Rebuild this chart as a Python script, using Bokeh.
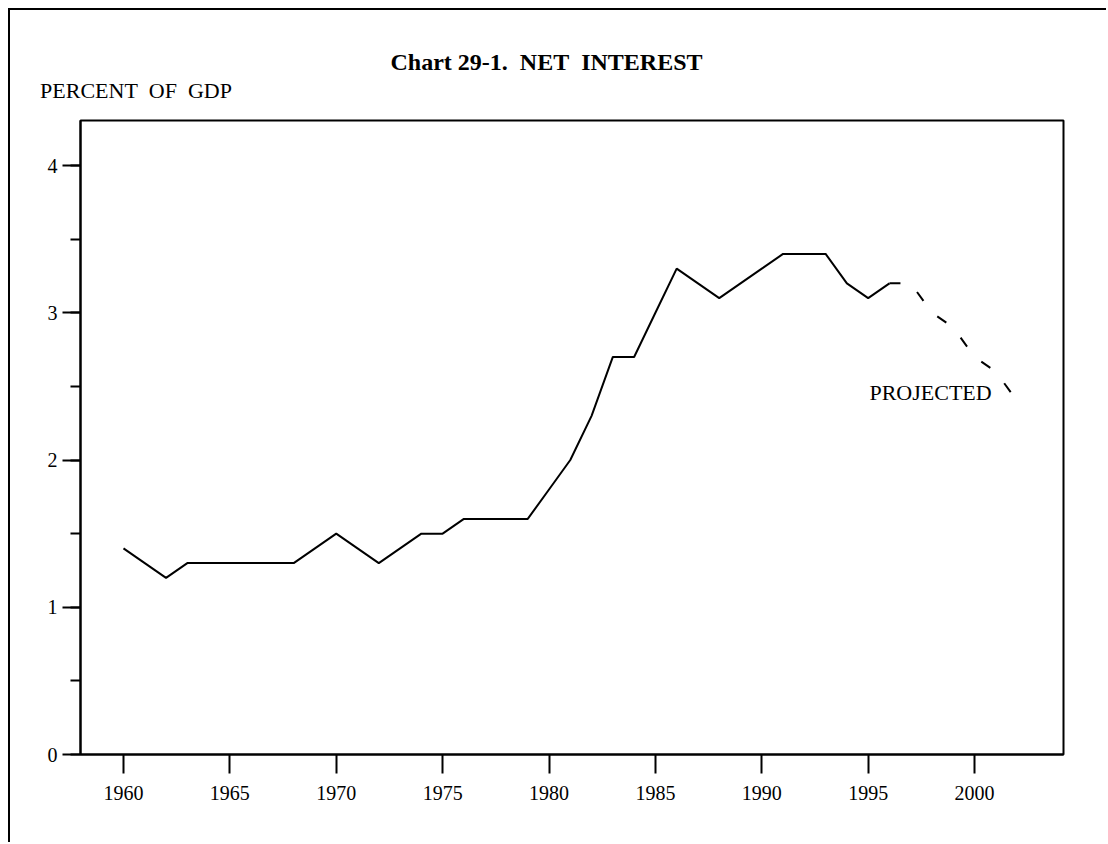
from bokeh.plotting import figure
from bokeh.models import Range1d, SingleIntervalTicker, FixedTicker, Label, LinearAxis
from bokeh.embed import file_html
from bokeh.resources import INLINE

NB = "\u00a0"

# ---- data ----
years_actual = list(range(1960, 1997))
net_interest_actual = [1.4, 1.3, 1.2, 1.3, 1.3, 1.3, 1.3, 1.3, 1.3, 1.4,
                       1.5, 1.4, 1.3, 1.4, 1.5, 1.5, 1.6, 1.6, 1.6, 1.6,
                       1.8, 2.0, 2.3, 2.7, 2.7, 3.0, 3.3, 3.2, 3.1, 3.2,
                       3.3, 3.4, 3.4, 3.4, 3.2, 3.1, 3.2]
years_projected = [1996, 1997, 1998, 1999, 2000, 2001, 2002]
net_interest_projected = [3.2, 3.2, 3.0, 2.9, 2.7, 2.6, 2.4]
y_ticks = [0, 1, 2, 3, 4]
title_text = "Chart 29-1." + NB + " NET" + NB + " INTEREST"
y_label_text = "PERCENT" + NB + " OF" + NB + " GDP"
projected_text = "PROJECTED"

FONT = "Liberation Serif"
W, H = 1096, 832

p = figure(width=W, height=H, output_backend="svg", toolbar_location=None,
           x_range=Range1d(1957.98, 2004.18), y_range=Range1d(0, 4.306),
           frame_width=983, frame_height=634,
           min_border_left=70, min_border_top=110, min_border_right=43, min_border_bottom=88)

p.styles = {"border-left": "2px solid black", "border-top": "2px solid black",
            "margin-left": "8px", "margin-top": "8px"}

p.grid.visible = False
p.outline_line_color = "black"
p.outline_line_width = 2
p.outline_line_alpha = 1
p.background_fill_color = "white"
p.border_fill_color = "white"

# title (outermost panel above the frame)
p.title.text = title_text
p.title.text_font = FONT
p.title.text_font_size = "24px"
p.title.text_font_style = "bold"
p.title.text_color = "black"
p.title.align = "left"
p.title.offset = 310
p.title.standoff = 0
p.title.vertical_align = "bottom"

# "PERCENT OF GDP" as the label of a bare axis above the frame
label_axis = LinearAxis(ticker=FixedTicker(ticks=[1960.59]),
                        major_label_overrides={1960.59: y_label_text})
label_axis.axis_line_color = None
label_axis.major_tick_line_color = None
label_axis.minor_tick_line_color = None
label_axis.major_tick_in = 0
label_axis.major_tick_out = 0
label_axis.major_label_standoff = 18
label_axis.major_label_text_font = FONT
label_axis.major_label_text_font_size = "22px"
label_axis.major_label_text_color = "black"
p.add_layout(label_axis, "above")

# x axis
xa = p.below[0]
xa.ticker = SingleIntervalTicker(interval=5, num_minor_ticks=0)
xa.axis_line_width = 2
xa.axis_line_color = "black"
xa.major_tick_in = 0
xa.major_tick_out = 19
xa.major_tick_line_width = 2
xa.minor_tick_line_color = None
xa.major_label_text_font = FONT
xa.major_label_text_font_size = "20px"
xa.major_label_text_color = "black"
xa.major_label_standoff = 12

# y axis
ya = p.left[0]
ya.ticker = SingleIntervalTicker(interval=1, num_minor_ticks=2)
ya.axis_line_width = 2
ya.axis_line_color = "black"
ya.major_tick_in = 0
ya.major_tick_out = 18
ya.major_tick_line_width = 2
ya.minor_tick_in = 0
ya.minor_tick_out = 10
ya.minor_tick_line_width = 2
ya.minor_tick_line_color = "black"
ya.major_label_text_font = FONT
ya.major_label_text_font_size = "20px"
ya.major_label_text_color = "black"
ya.major_label_standoff = 5
ya.major_label_orientation = "horizontal"

p.line(years_actual, net_interest_actual, line_color="black", line_width=2)
p.line(years_projected, net_interest_projected, line_color="black", line_width=2,
       line_dash="11 21")

p.add_layout(Label(x=1995.06, y=2.46, text=projected_text, text_font=FONT,
                   text_font_size="22px", text_align="left",
                   text_baseline="alphabetic", text_color="black"))

open("out.html", "w").write(file_html(p, INLINE))
